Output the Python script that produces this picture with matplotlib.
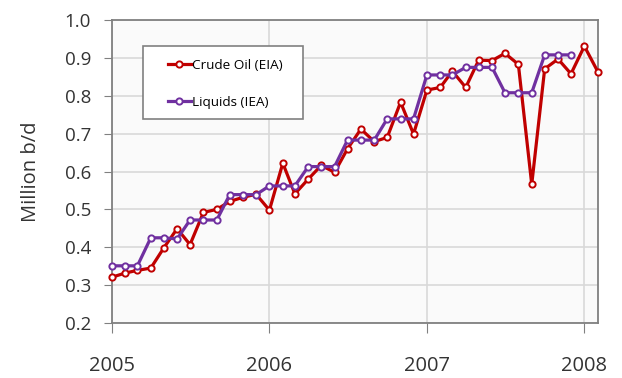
import numpy as np
import pandas as pd
import matplotlib
matplotlib.use("Agg")
import matplotlib.pyplot as plt
from matplotlib.patches import Rectangle

plt.rcParams['font.family'] = ['Open Sans', 'DejaVu Sans']

# monthly values, Jan 2005 onward
crude_oil = [0.321, 0.332, 0.339, 0.345, 0.398, 0.449, 0.407, 0.492, 0.500, 0.521,
             0.532, 0.540, 0.498, 0.622, 0.541, 0.580, 0.616, 0.598, 0.660, 0.712,
             0.679, 0.690, 0.783, 0.699, 0.815, 0.822, 0.865, 0.822, 0.894, 0.893,
             0.912, 0.883, 0.566, 0.871, 0.897, 0.858, 0.931, 0.864]
liquids = [0.351, 0.351, 0.351, 0.425, 0.425, 0.422, 0.472, 0.472, 0.472, 0.539,
           0.539, 0.539, 0.562, 0.562, 0.562, 0.613, 0.613, 0.613, 0.683, 0.683,
           0.683, 0.739, 0.739, 0.739, 0.855, 0.855, 0.855, 0.875, 0.875, 0.875,
           0.808, 0.808, 0.808, 0.908, 0.908, 0.908]
year_ticks = ['2005', '2006', '2007', '2008']

months_oil = pd.date_range('2005-01-01', periods=len(crude_oil), freq='MS')
months_liq = pd.date_range('2005-01-01', periods=len(liquids), freq='MS')

fig = plt.figure(figsize=(6.22, 3.78), dpi=100)
ax = fig.add_axes([0.180, 0.1455, 0.781, 0.8015])
ax.set_facecolor('#fafafa')

ax.plot(months_oil, crude_oil, color='#c00000', lw=2.3, marker='o', ms=4.5,
        mfc='white', mec='#c00000', mew=1.4, label='Crude Oil (EIA)', clip_on=False, zorder=3)
ax.plot(months_liq, liquids, color='#7030a0', lw=2.3, marker='o', ms=4.5,
        mfc='white', mec='#7030a0', mew=1.4, label='Liquids (IEA)', clip_on=False, zorder=4)

ax.set_ylim(0.2, 1.0)
ax.set_yticks(np.arange(0.2, 1.01, 0.1))
ax.set_yticklabels(['%.1f' % v for v in np.arange(0.2, 1.01, 0.1)])
ax.set_xlim(months_oil[0], months_oil[-1])
ax.set_xticks([pd.Timestamp(y + '-01-01') for y in year_ticks])
ax.set_xticklabels(year_ticks)

ax.grid(True, color='#d9d9d9', lw=1.2)
ax.set_axisbelow(True)
for s in ax.spines.values():
    s.set_color('#808080')
    s.set_linewidth(1.3)
ax.tick_params(axis='y', direction='out', length=6, color='#808080', labelsize=13.5,
               labelcolor='#333333', pad=9)
ax.tick_params(axis='x', direction='out', length=7, color='#808080', labelsize=14.5,
               labelcolor='#333333', pad=17)

ax.set_ylabel('Million b/d', fontsize=14.5, color='#333333', labelpad=17)

# legend box
ax.add_patch(Rectangle((143 / 622, 1 - 119 / 378), 160 / 622, 73 / 378,
                       transform=fig.transFigure, facecolor='white',
                       edgecolor='#808080', lw=1.2, zorder=5, clip_on=False))
leg = ax.legend(loc='upper left', bbox_to_anchor=(168 / 622, 1 - 59 / 378),
                bbox_transform=fig.transFigure, fontsize=9.7, frameon=False,
                handlelength=1.7, handletextpad=0.05, labelspacing=1.75,
                borderpad=0, borderaxespad=0)
leg.set_zorder(6)

fig.savefig('out.png', dpi=100)
